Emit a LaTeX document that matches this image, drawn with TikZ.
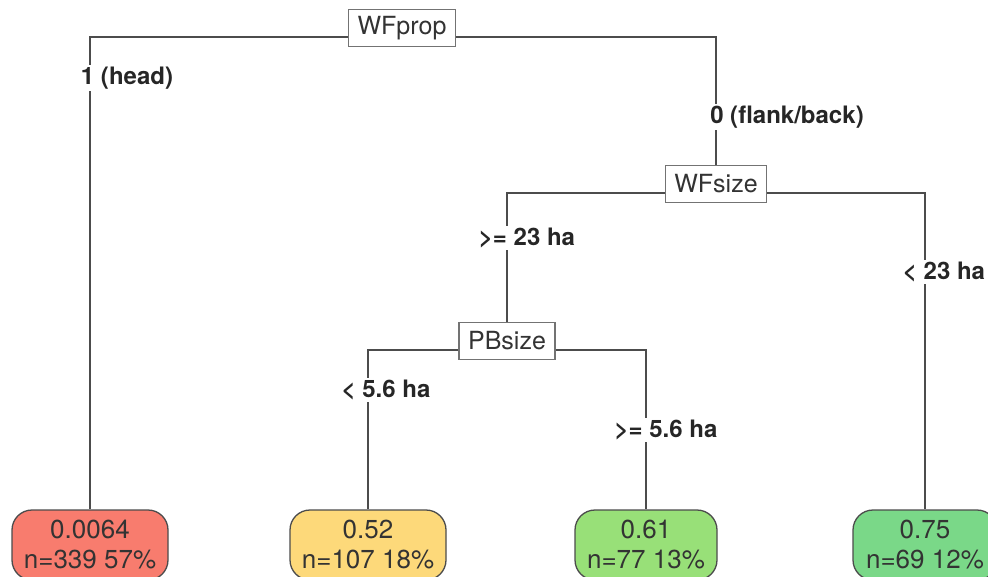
\documentclass[tikz,border=0pt]{standalone}
\usepackage{fontspec}
\setmainfont{TeX Gyre Heros}
\usetikzlibrary{positioning}
\definecolor{leafred}{RGB}{248,124,110}
\definecolor{leafyellow}{RGB}{253,217,122}
\definecolor{leafgreen}{RGB}{152,224,120}
\definecolor{leafteal}{RGB}{122,216,136}

\begin{document}
\begin{tikzpicture}[x = 1pt, y = -1pt,
	split/.style = {draw = black!55, line width = 1.3pt, fill = white, inner xsep = 9pt,
		minimum height = 37pt, font = \fontsize{25}{28}\selectfont, text = black!80},
	leaf/.style = {draw = black!70, line width = 1.3pt, rounded corners = 20pt,
		minimum width = 156pt, minimum height = 70pt, align = center,
		font = \fontsize{26}{30}\selectfont, text = black!80},
	branch/.style = {draw = black!70, line width = 1.6pt},
	cond/.style = {fill = white, inner sep = 2pt, text = black!85,
		font = \bfseries\fontsize{24}{26}\selectfont}]
			\useasboundingbox (0,0) rectangle (988,576);
			\clip (0,0) rectangle (988,576);
			% split nodes
			\node[split] (WFprop) at (402, 28){WFprop};
			\node[split] (WFsize) at (716, 184){WFsize};
			\node[split] (PBsize) at (507, 341){PBsize};
			% leaves
			\node[leaf, fill = leafred] (headleaf) at (90, 545){0.0064\\n=339\ 57\%};
			\node[leaf, fill = leafyellow] (smallleaf) at (368, 545){0.52\\n=107\ 18\%};
			\node[leaf, fill = leafgreen, minimum width = 142pt] (largeleaf) at (646, 545){0.61\\n=77\ 13\%};
			\node[leaf, fill = leafteal, minimum width = 144pt] (flankleaf) at (925, 545){0.75\\n=69\ 12\%};
			% branches
			\draw[branch] ([yshift = -9pt]WFprop.west) -| (headleaf.north);
			\draw[branch] ([yshift = -9pt]WFprop.east) -| (WFsize.north);
			\draw[branch] ([yshift = -9pt]WFsize.west) -| (PBsize.north);
			\draw[branch] ([yshift = -9pt]WFsize.east) -| (flankleaf.north);
			\draw[branch] ([yshift = -9pt]PBsize.west) -| (smallleaf.north);
			\draw[branch] ([yshift = -9pt]PBsize.east) -| (largeleaf.north);
			% split conditions
			\node[cond] (headcond) at (127, 78){1 (head)};
			\node[cond] (flankcond) at (787, 117){0 (flank/back)};
			\node[cond] (bigcond) at (527, 238){>= 23 ha};
			\node[cond] (lesscond) at (944, 272){< 23 ha};
			\node[cond] (smallcond) at (386, 390){< 5.6 ha};
			\node[cond] (largecond) at (666, 430){>= 5.6 ha};
		\end{tikzpicture}
\end{document}
